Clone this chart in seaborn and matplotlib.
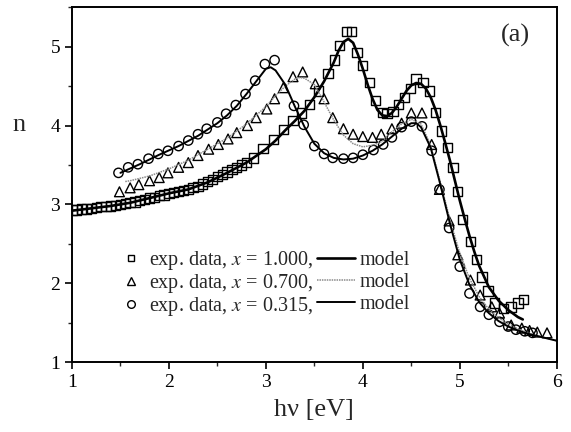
import matplotlib
matplotlib.use("Agg")
import matplotlib.pyplot as plt
import seaborn as sns
from matplotlib.lines import Line2D
from matplotlib.ticker import MultipleLocator

# x = 1.000 (squares)
sq_x = [1.00, 1.05, 1.10, 1.15, 1.20, 1.25, 1.30, 1.35, 1.40, 1.45, 1.50, 1.55, 1.60, 1.65,
        1.70, 1.75, 1.80, 1.85, 1.90, 1.95, 2.00, 2.05, 2.10, 2.15, 2.20, 2.25, 2.30, 2.35,
        2.40, 2.45, 2.50, 2.55, 2.60, 2.65, 2.70, 2.75, 2.80, 2.87, 2.97, 3.08, 3.18, 3.28,
        3.37, 3.45, 3.54, 3.64, 3.71, 3.76, 3.83, 3.88, 3.94, 4.00, 4.07, 4.13, 4.20, 4.25,
        4.31, 4.37, 4.43, 4.49, 4.55, 4.62, 4.69, 4.75, 4.81, 4.87, 4.93, 4.98, 5.03, 5.11,
        5.17, 5.23, 5.29, 5.36, 5.45, 5.53, 5.60, 5.66]
sq_n = [2.93, 2.93, 2.94, 2.94, 2.95, 2.96, 2.97, 2.97, 2.98, 2.99, 3.00, 3.01, 3.02, 3.03,
        3.05, 3.06, 3.08, 3.09, 3.11, 3.12, 3.14, 3.15, 3.16, 3.18, 3.19, 3.21, 3.23, 3.26,
        3.29, 3.32, 3.35, 3.38, 3.41, 3.44, 3.47, 3.50, 3.53, 3.59, 3.71, 3.82, 3.95, 4.06,
        4.16, 4.27, 4.44, 4.66, 4.83, 5.02, 5.19, 5.19, 4.93, 4.76, 4.55, 4.32, 4.17, 4.15,
        4.18, 4.27, 4.36, 4.47, 4.59, 4.55, 4.44, 4.17, 3.93, 3.72, 3.47, 3.16, 2.81, 2.53,
        2.30, 2.08, 1.90, 1.75, 1.68, 1.70, 1.75, 1.79]

# x = 0.700 (triangles)
tri_x = [1.49, 1.60, 1.69, 1.80, 1.90, 1.99, 2.10, 2.20, 2.30, 2.41, 2.51, 2.61, 2.70, 2.81,
         2.90, 3.01, 3.09, 3.18, 3.28, 3.38, 3.51, 3.60, 3.69, 3.80, 3.90, 4.00, 4.10, 4.19,
         4.30, 4.40, 4.50, 4.61, 4.71, 4.79, 4.89, 4.98, 5.11, 5.21, 5.33, 5.41, 5.53, 5.64,
         5.72, 5.80, 5.90]
tri_n = [3.16, 3.21, 3.25, 3.30, 3.34, 3.40, 3.47, 3.53, 3.62, 3.70, 3.76, 3.83, 3.91, 4.00,
         4.10, 4.21, 4.34, 4.48, 4.62, 4.68, 4.53, 4.34, 4.10, 3.96, 3.89, 3.86, 3.85, 3.89,
         3.96, 4.03, 4.16, 4.16, 3.76, 3.19, 2.79, 2.36, 2.04, 1.85, 1.70, 1.62, 1.47, 1.43,
         1.40, 1.38, 1.37]

# x = 0.315 (circles)
cir_x = [1.48, 1.58, 1.68, 1.79, 1.89, 1.99, 2.10, 2.20, 2.30, 2.39, 2.50, 2.59, 2.69, 2.79,
         2.89, 2.99, 3.09, 3.29, 3.39, 3.50, 3.60, 3.69, 3.80, 3.90, 4.00, 4.11, 4.21, 4.30,
         4.40, 4.50, 4.61, 4.71, 4.79, 4.89, 5.00, 5.10, 5.21, 5.30, 5.41, 5.50, 5.58, 5.67,
         5.75]
cir_n = [3.40, 3.47, 3.51, 3.58, 3.64, 3.68, 3.74, 3.81, 3.89, 3.96, 4.04, 4.15, 4.26, 4.40,
         4.57, 4.78, 4.83, 4.25, 4.01, 3.74, 3.64, 3.59, 3.58, 3.59, 3.63, 3.69, 3.76, 3.85,
         3.98, 4.05, 3.99, 3.68, 3.19, 2.70, 2.21, 1.87, 1.70, 1.60, 1.51, 1.45, 1.41, 1.39,
         1.37]

# model curves
m1_x = [1.0, 1.2, 1.4, 1.6, 1.8, 2.0, 2.2, 2.4, 2.6, 2.8, 3.0, 3.1, 3.2, 3.3, 3.4, 3.5, 3.6,
        3.7, 3.75, 3.8, 3.85, 3.9, 3.95, 4.0, 4.05, 4.1, 4.15, 4.2, 4.25, 4.3, 4.35, 4.4, 4.45,
        4.5, 4.55, 4.6, 4.65, 4.7, 4.75, 4.8, 4.85, 4.9, 4.95, 5.0, 5.05, 5.1, 5.15, 5.2, 5.3,
        5.4, 5.5, 5.6, 5.65]
m1_n = [2.92, 2.95, 2.98, 3.02, 3.08, 3.14, 3.19, 3.28, 3.40, 3.53, 3.70, 3.81, 3.94, 4.06,
        4.19, 4.36, 4.56, 4.80, 4.95, 5.06, 5.10, 5.05, 4.90, 4.72, 4.52, 4.34, 4.20, 4.13,
        4.12, 4.16, 4.24, 4.34, 4.44, 4.51, 4.54, 4.53, 4.47, 4.36, 4.20, 4.00, 3.78, 3.55,
        3.30, 3.05, 2.82, 2.60, 2.40, 2.22, 1.95, 1.78, 1.66, 1.57, 1.54]

m2_x = [1.55, 1.6, 1.8, 2.0, 2.2, 2.4, 2.6, 2.8, 3.0, 3.1, 3.2, 3.3, 3.35, 3.4, 3.5, 3.6, 3.7,
        3.8, 3.9, 4.0, 4.1, 4.2, 4.3, 4.4, 4.5, 4.6, 4.7, 4.8, 4.9, 5.0, 5.1, 5.2, 5.3, 5.4,
        5.5, 5.6, 5.7, 5.8, 5.9, 6.0]
m2_n = [3.29, 3.30, 3.36, 3.45, 3.56, 3.70, 3.84, 4.02, 4.24, 4.38, 4.50, 4.59, 4.61, 4.60,
        4.52, 4.30, 4.07, 3.88, 3.77, 3.73, 3.75, 3.80, 3.92, 4.02, 4.08, 4.02, 3.75, 3.28,
        2.80, 2.38, 2.06, 1.83, 1.67, 1.56, 1.48, 1.42, 1.37, 1.33, 1.30, 1.27]

m3_x = [1.5, 1.7, 1.9, 2.1, 2.3, 2.5, 2.6, 2.7, 2.8, 2.9, 3.0, 3.05, 3.1, 3.2, 3.3, 3.4, 3.5,
        3.6, 3.7, 3.8, 3.9, 4.0, 4.1, 4.2, 4.3, 4.4, 4.5, 4.55, 4.6, 4.7, 4.8, 4.9, 5.0, 5.1,
        5.2, 5.3, 5.4, 5.5, 5.6, 5.7, 5.8, 5.9, 6.0]
m3_n = [3.40, 3.51, 3.63, 3.74, 3.87, 4.03, 4.13, 4.25, 4.40, 4.56, 4.72, 4.74, 4.70, 4.52,
        4.24, 3.98, 3.77, 3.65, 3.59, 3.57, 3.58, 3.62, 3.68, 3.76, 3.86, 3.96, 4.03, 4.03,
        3.98, 3.72, 3.25, 2.75, 2.30, 1.98, 1.76, 1.62, 1.52, 1.45, 1.40, 1.36, 1.33, 1.30,
        1.27]

exp_labels = ["exp. data, $x$ = 1.000,", "exp. data, $x$ = 0.700,", "exp. data, $x$ = 0.315,"]
model_labels = ["model", "model", "model"]

GRAY = "#8a8a8a"
DOT = (0, (1, 0.6))

sns.set_style("ticks")
plt.rcParams["font.family"] = ["Liberation Serif", "DejaVu Serif"]
plt.rcParams["mathtext.fontset"] = "stix"

fig = plt.figure(figsize=(5.71, 4.32), dpi=100)
ax = fig.add_axes([0.126, 0.162, 0.849, 0.821])

sns.lineplot(x=m1_x, y=m1_n, color="black", lw=1.9, sort=False, ax=ax)
sns.lineplot(x=m2_x, y=m2_n, color=GRAY, lw=1.1, ls=DOT, sort=False, ax=ax)
sns.lineplot(x=m3_x, y=m3_n, color="black", lw=1.4, sort=False, ax=ax)

mk = dict(facecolor="none", edgecolor="black", linewidth=1.0, ax=ax)
sns.scatterplot(x=sq_x, y=sq_n, marker="s", s=45, **mk)
sns.scatterplot(x=tri_x, y=tri_n, marker="^", s=50, **mk)
sns.scatterplot(x=cir_x, y=cir_n, marker="o", s=45, **mk)

ax.set_xlim(1, 6)
ax.set_ylim(1, 5.5)
ax.xaxis.set_major_locator(MultipleLocator(1))
ax.xaxis.set_minor_locator(MultipleLocator(0.5))
ax.yaxis.set_major_locator(MultipleLocator(1))
ax.yaxis.set_minor_locator(MultipleLocator(0.5))
ax.tick_params(which="major", direction="out", length=5, width=1.2, labelsize=14, colors="black")
ax.tick_params(which="minor", direction="out", length=3, width=1.0)
for s in ax.spines.values():
    s.set_visible(True)
    s.set_linewidth(1.4)
    s.set_color("black")

ax.set_xlabel("h\u03bd [eV]", fontsize=19, labelpad=6)
ax.set_ylabel("n", fontsize=19, rotation=0, va="center", ha="center")
ax.yaxis.set_label_coords(-0.11, 0.667)
ax.text(0.915, 0.92, "(a)", transform=ax.transAxes, fontsize=19, ha="center", va="center")

exp_handles = [
    Line2D([], [], ls="none", marker="s", ms=5, mfc="none", mec="black", mew=1.0),
    Line2D([], [], ls="none", marker="^", ms=6, mfc="none", mec="black", mew=1.0),
    Line2D([], [], ls="none", marker="o", ms=5.5, mfc="none", mec="black", mew=1.0),
]
model_handles = [
    Line2D([], [], color="black", lw=1.9),
    Line2D([], [], color=GRAY, lw=1.1, ls=DOT),
    Line2D([], [], color="black", lw=1.4),
]
leg_a = ax.legend(exp_handles, exp_labels, loc="upper left", bbox_to_anchor=(0.080, 0.346),
                  frameon=False, fontsize=14.5, handlelength=1.0, handletextpad=0.4,
                  labelspacing=0.0, borderpad=0.0)
ax.add_artist(leg_a)
ax.legend(model_handles, model_labels, loc="upper left", bbox_to_anchor=(0.485, 0.342),
          frameon=False, fontsize=14.5, handlelength=1.9, handletextpad=0.2,
          labelspacing=0.155, borderpad=0.0)

fig.savefig("out.png", dpi=100)
